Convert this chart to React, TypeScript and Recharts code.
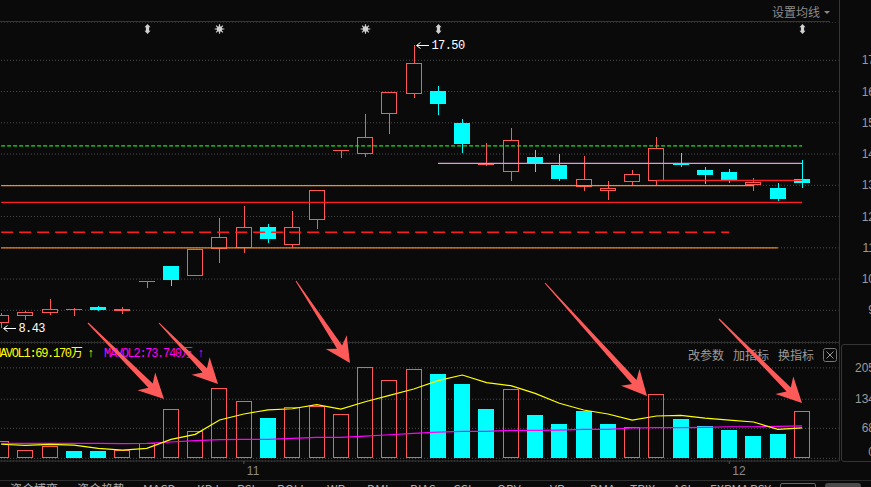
import React from "react";
import {
  ComposedChart,
  Bar,
  Line,
  XAxis,
  YAxis,
  CartesianGrid,
  ReferenceLine,
} from "recharts";

// 日K 数据
const opens = [8.6, 8.83, 8.92, 9.01, 9.11, 8.98, 9.93, 10.42, 10.11, 10.95, 10.98, 11.66, 11.08, 11.88, 14.11, 14.01, 15.29, 15.93, 16.02, 14.99, 13.66, 13.44, 13.91, 13.65, 12.94, 12.83, 13.12, 13.15, 13.7, 13.49, 13.43, 13.0, 12.91, 13.2];
const highs = [8.92, 8.98, 9.36, 9.08, 9.14, 9.12, 9.95, 10.43, 10.97, 11.95, 12.34, 11.76, 12.18, 12.85, 14.13, 15.28, 15.99, 17.5, 16.18, 15.12, 14.35, 14.83, 14.13, 14.0, 13.94, 13.13, 13.49, 14.55, 14.03, 13.59, 13.52, 13.23, 13.07, 13.81];
const lows = [8.43, 8.7, 8.86, 8.82, 8.98, 8.88, 9.72, 9.79, 10.1, 10.52, 10.82, 11.16, 11.02, 11.59, 13.88, 13.92, 14.65, 15.8, 15.25, 14.03, 13.63, 13.14, 13.44, 13.15, 12.82, 12.54, 12.98, 12.98, 13.6, 13.04, 13.08, 12.82, 12.51, 12.92];
const closes = [8.84, 8.94, 9.03, 9.04, 9.02, 9.04, 9.95, 9.97, 10.96, 11.35, 11.66, 11.27, 11.66, 12.84, 14.13, 14.55, 15.98, 16.9, 15.61, 14.33, 13.7, 14.44, 13.71, 13.21, 13.19, 12.9, 13.36, 14.19, 13.66, 13.34, 13.18, 13.1, 12.57, 13.08];

// 成交量（万）及颜色（1 红 / 0 青）
const volumes = [39, 20, 27, 16.5, 16.5, 19, 34, 111, 62, 159, 129, 91, 116, 119, 100, 206, 177, 202, 191, 169, 112, 156, 98, 78, 108, 78, 70, 146, 89, 73, 64, 50.5, 55, 107];
const volUp = [1, 1, 1, 0, 0, 1, 1, 1, 1, 1, 1, 0, 1, 1, 1, 1, 1, 1, 0, 0, 0, 1, 0, 0, 0, 0, 1, 1, 0, 0, 0, 0, 0, 1];
const mavol1 = [32, 29.4, 31.7, 30, 22.6, 18.8, 22.6, 43, 54.4, 86.8, 100.4, 110, 112.4, 121.5, 111.7, 128.3, 142.8, 157, 176, 188.8, 171.4, 164.6, 147.3, 124.7, 109.5, 100.4, 86.8, 95.9, 97.5, 91.3, 86.8, 82.3, 65.7, 69.17];
const mavol2 = [34, 34, 34, 34, 34, 33.5, 34, 37, 40, 42.3, 43, 43, 45.3, 47.6, 47.6, 50.5, 53.5, 56.7, 59.3, 61.2, 61.2, 63.5, 63.5, 64.1, 65.7, 65.7, 68.7, 69.4, 69.4, 70.3, 71.6, 71.6, 72.5, 73.74];

// 坐标刻度
const priceTicks = [9, 10, 11, 12, 13, 14, 15, 16, 17];
const volTicks = [0, 68, 134, 205];
const monthTickIdx = [10, 30];
const monthTickLabel = ["11", "12"];

// 顶部信号
const signalIdx = [6, 9, 15, 18, 33];
const signalKind = ["updown", "star", "star", "updown", "updown"];

// 画线：价位、起止K线
const levelPrices = [14.26, 13.7, 13.16, 12.99, 12.456, 11.496, 11.0];
const levelFrom = [0, 18, 27, 0, 0, 0, 0];
const levelTo = [33, 33, 33, 31, 33, 30, 32];
const levelStyles = [
  { stroke: "#14e814", dash: "4 2", w: 1.3 },
  { stroke: "#e296e2", dash: undefined, w: 1.3 },
  { stroke: "#ff2020", dash: undefined, w: 1.3 },
  { stroke: "#ff8a10", dash: undefined, w: 1.3 },
  { stroke: "#ff1c1c", dash: undefined, w: 1.3 },
  { stroke: "#ff1c1c", dash: "12 6", w: 1.6 },
  { stroke: "#f08a18", dash: undefined, w: 1.3 },
];

const bottomTabs = ["资金博弈", "资金趋势", "MACD", "KDJ", "RSI", "BOLL", "WR", "DMI", "BIAS", "CCI", "OBV", "VR", "DMA", "TRIX", "ASI", "EXPMA", "PSY"];
const bottomTabX = [10, 77, 143, 197, 237, 277, 327, 367, 410, 453, 497, 550, 590, 630, 673, 710, 750];

// 手绘箭头（注释，页面坐标）
const noteArrows = [
  [88, 323, 164, 399],
  [159, 323, 218, 384],
  [296, 281, 350, 363],
  [545, 283, 647, 396],
  [719, 319, 802, 403],
];

const BG = "#0a0a0a";
const RED = "#ff5656";
const CYAN = "#00ffff";
const CHART_LEFT = -11;
const CHART_W = 900;
const AXIS_W = 50.5;
const PRICE_TOP = 22;
const PRICE_H = 320;
const VOL_TOP = 343;
const VOL_H = 137;
const LABEL_END = 875 - CHART_LEFT;

const maxIdx = highs.indexOf(Math.max(...highs));
const minIdx = lows.indexOf(Math.min(...lows));

const rows = [...opens.map((o, i) => ({
  i,
  open: o,
  high: highs[i],
  low: lows[i],
  close: closes[i],
  vol: volumes[i],
  up: volUp[i],
  ma1: mavol1[i],
  ma2: mavol2[i],
})), { i: opens.length } as any];

const Signal = ({ cx, y, kind }: { cx: number; y: number; kind: string }) => {
  if (kind === "star") {
    const rays = [0, 45, 90, 135].map((a) => {
      const r = (a * Math.PI) / 180;
      return (
        <line key={a} x1={cx - Math.cos(r) * 4.8} y1={y - Math.sin(r) * 4.8} x2={cx + Math.cos(r) * 4.8} y2={y + Math.sin(r) * 4.8} stroke="#d0d0d0" strokeWidth={1.2} />
      );
    });
    return (
      <g>
        {rays}
        <circle cx={cx} cy={y} r={2.8} fill="#d0d0d0" />
      </g>
    );
  }
  const p = [
    [cx, y - 5], [cx + 3, y - 1.8], [cx + 1.6, y - 1.8], [cx + 1.6, y + 1.8], [cx + 3, y + 1.8],
    [cx, y + 5], [cx - 3, y + 1.8], [cx - 1.6, y + 1.8], [cx - 1.6, y - 1.8], [cx - 3, y - 1.8],
  ];
  return <polygon points={p.map((q) => q.join(",")).join(" ")} fill="#d0d0d0" />;
};

const Candle = (props: any) => {
  const { x, y, width, height, payload } = props;
  if (!payload || payload.open == null || !isFinite(y) || !isFinite(height)) return null;
  const { open, close, high, low, i } = payload;
  const top = Math.min(y, y + height);
  const k = Math.abs(height) / (high - low);
  const yOf = (p: number) => top + (high - p) * k;
  const c = Math.round(x + width / 2);
  const wx = c + 0.5;
  const up = close >= open;
  const bt = Math.round(yOf(Math.max(open, close)));
  const bb = Math.round(yOf(Math.min(open, close)));
  const yh = Math.round(yOf(high));
  const yl = Math.round(yOf(low));
  const si = signalIdx.indexOf(i);
  const parts: React.ReactNode[] = [];
  if (up) {
    parts.push(<line key="w1" x1={wx} y1={yh} x2={wx} y2={bt} stroke={RED} />);
    parts.push(<line key="w2" x1={wx} y1={bb} x2={wx} y2={yl} stroke={RED} />);
    if (bb - bt < 2) {
      parts.push(<rect key="b" x={c - 8} y={bt} width={16} height={Math.max(1, bb - bt)} fill={RED} />);
    } else {
      parts.push(<rect key="b" x={c - 7.5} y={bt + 0.5} width={15} height={bb - bt - 1} fill={BG} stroke={RED} />);
    }
  } else {
    parts.push(<line key="w" x1={wx} y1={yh} x2={wx} y2={yl} stroke={CYAN} />);
    parts.push(<rect key="b" x={c - 8} y={bt} width={16} height={Math.max(1, bb - bt)} fill={CYAN} />);
  }
  const note = (py: number, v: number) => (
    <g key={"n" + v}>
      <line x1={wx + 2} y1={py + 0.5} x2={wx + 14} y2={py + 0.5} stroke="#fff" shapeRendering="crispEdges" />
      <path d={`M${wx + 2},${py + 0.5} L${wx + 6},${py - 2.5} M${wx + 2},${py + 0.5} L${wx + 6},${py + 3.5}`} stroke="#fff" fill="none" />
      <text x={wx + 17} y={py + 1} fill="#fff" fontSize={12} fontFamily="'Liberation Mono', monospace" letterSpacing={-0.6} dominantBaseline="central">
        {v.toFixed(2)}
      </text>
    </g>
  );
  return (
    <g>
      <g shapeRendering="crispEdges">{parts}</g>
      {i === maxIdx && note(yh, high)}
      {i === minIdx && note(yl, low)}
      {si >= 0 && <Signal cx={wx} y={29 - PRICE_TOP} kind={signalKind[si]} />}
    </g>
  );
};

const VolBar = (props: any) => {
  const { x, y, width, height, payload } = props;
  if (!payload || payload.vol == null || !isFinite(y) || !isFinite(height)) return null;
  const c = Math.round(x + width / 2);
  const t = Math.round(Math.min(y, y + height));
  const b = Math.round(Math.max(y, y + height));
  if (payload.up) {
    return <rect x={c - 7.5} y={t + 0.5} width={15} height={b - t - 1} fill="none" stroke={RED} shapeRendering="crispEdges" />;
  }
  return <rect x={c - 8} y={t} width={16} height={b - t} fill={CYAN} shapeRendering="crispEdges" />;
};

const PriceTick = (p: any) => (
  <text x={LABEL_END} y={p.y} fill="#9a9a9a" fontSize={12} fontFamily="'Liberation Sans', Arial, sans-serif" textAnchor="end" dominantBaseline="central">
    {p.payload.value}
  </text>
);

const VolTick = (p: any) => (
  <text x={LABEL_END} y={p.payload.value === 0 ? p.y - 6 : p.y} fill="#9a9a9a" fontSize={12} fontFamily="'Liberation Sans', Arial, sans-serif" textAnchor="end" dominantBaseline="central">
    {p.payload.value}
  </text>
);

const MonthTick = (p: any) => {
  const k = monthTickIdx.indexOf(p.payload.value);
  return (
    <text x={p.x + 3} y={471 - VOL_TOP} fill="#8a8a8a" fontSize={12} fontFamily="'Liberation Sans', Arial, sans-serif" dominantBaseline="central">
      {k >= 0 ? monthTickLabel[k] : ""}
    </text>
  );
};

function arrowPoints(x1: number, y1: number, x2: number, y2: number) {
  const dx = x2 - x1;
  const dy = y2 - y1;
  const L = Math.hypot(dx, dy);
  const ux = dx / L;
  const uy = dy / L;
  const nx = -uy;
  const ny = ux;
  const head = 25;
  const neckAt = 19;
  const barb = 12.5;
  const neck = 3;
  const tail = 0.5;
  const bx = x2 - ux * head;
  const by = y2 - uy * head;
  const kx = x2 - ux * neckAt;
  const ky = y2 - uy * neckAt;
  const pts = [
    [x1 + nx * tail, y1 + ny * tail],
    [kx + nx * neck, ky + ny * neck],
    [bx + nx * barb, by + ny * barb],
    [x2, y2],
    [bx - nx * barb, by - ny * barb],
    [kx - nx * neck, ky - ny * neck],
    [x1 - nx * tail, y1 - ny * tail],
  ];
  return pts.map((q) => q.map((v) => v.toFixed(1)).join(",")).join(" ");
}

const abs = (s: React.CSSProperties): React.CSSProperties => ({ position: "absolute", ...s });
const cjk = "'Noto Sans CJK SC', sans-serif";
const mono: React.CSSProperties = { fontFamily: "'Liberation Mono', 'Noto Sans CJK SC', monospace", fontSize: 12, letterSpacing: -1.3, whiteSpace: "pre", lineHeight: "14px" };

export default function App() {
  return (
    <div style={{ position: "fixed", left: 0, top: 0, width: 871, height: 487, background: BG, overflow: "hidden" }}>
      {/* 边框 */}
      <div style={abs({ left: 0, top: 21, width: 830, height: 1, background: "#353535" })} />
      <div style={abs({ left: 839, top: 0, width: 1, height: 461, background: "#353535" })} />
      <div style={abs({ left: 0, top: 342, width: 839, height: 1, background: "#2e2e2e" })} />
      <div style={abs({ left: 841, top: 344, width: 40, height: 116, border: "1px solid #353535", borderRadius: 3 })} />
      <div style={abs({ left: 0, top: 480, width: 871, height: 1, background: "#2e2e2e" })} />

      <div style={abs({ left: 772, top: 3, fontFamily: cjk, fontSize: 12, color: "#8a8a8a", lineHeight: "18px" })}>设置均线</div>
      <div style={abs({ left: 824, top: 11, width: 0, height: 0, borderLeft: "3px solid transparent", borderRight: "3px solid transparent", borderTop: "3px solid #8a8a8a" })} />

      <div style={abs({ left: CHART_LEFT, top: PRICE_TOP })}>
        <ComposedChart width={CHART_W} height={PRICE_H} data={rows} margin={{ top: 0, right: 0, bottom: 0, left: 0 }}>
          <CartesianGrid vertical={false} stroke="#4c4c4c" strokeDasharray="1 2" />
          <XAxis dataKey="i" type="category" hide />
          <YAxis
            orientation="right"
            width={AXIS_W}
            domain={[7.9856, 18.2256]}
            allowDataOverflow
            ticks={priceTicks}
            axisLine={false}
            tickLine={false}
            tick={PriceTick}
          />
          {levelPrices.map((p, k) => (
            <ReferenceLine
              key={k}
              segment={[{ x: levelFrom[k], y: p }, { x: levelTo[k], y: p }]}
              stroke={levelStyles[k].stroke}
              strokeWidth={levelStyles[k].w}
              strokeDasharray={levelStyles[k].dash}
            />
          ))}
          <Bar
            dataKey={(d: any) => (d.open == null ? null : [d.low, d.high])}
            barSize={16}
            shape={Candle}
            isAnimationActive={false}
          />
        </ComposedChart>
      </div>

      <div style={abs({ left: CHART_LEFT, top: VOL_TOP })}>
        <ComposedChart width={CHART_W} height={VOL_H} data={rows} margin={{ top: 0, right: 0, bottom: 0, left: 0 }}>
          <CartesianGrid vertical={false} stroke="#4c4c4c" strokeDasharray="1 2" />
          <XAxis
            dataKey="i"
            type="category"
            height={19}
            ticks={monthTickIdx}
            interval={0}
            axisLine={{ stroke: "#353535" }}
            tickLine={{ stroke: "#555" }}
            tickSize={3}
            tick={MonthTick}
          />
          <YAxis
            orientation="right"
            width={AXIS_W}
            domain={[-6, 261.3]}
            allowDataOverflow
            ticks={volTicks}
            axisLine={false}
            tickLine={false}
            tick={VolTick}
          />
          <Bar dataKey="vol" barSize={16} shape={VolBar} isAnimationActive={false} />
          <Line type="linear" dataKey="ma2" stroke="#ff00ff" strokeWidth={1.2} dot={false} isAnimationActive={false} />
          <Line type="linear" dataKey="ma1" stroke="#ffff00" strokeWidth={1.2} dot={false} isAnimationActive={false} />
        </ComposedChart>
      </div>

      <div style={abs({ left: -6, top: 347, color: "#ffff00", ...mono })}>
        {`MAVOL1:${mavol1[mavol1.length - 1].toFixed(3)}万 ↑`}
      </div>
      <div style={abs({ left: 104, top: 347, color: "#ff00ff", ...mono })}>
        {`MAVOL2:${mavol2[mavol2.length - 1].toFixed(3)}万 ↑`}
      </div>

      {["改参数", "加指标", "换指标"].map((t, k) => (
        <div key={t} style={abs({ left: 688 + k * 45, top: 346, fontFamily: cjk, fontSize: 12, color: "#9a9a9a", lineHeight: "18px" })}>{t}</div>
      ))}
      <svg style={abs({ left: 823, top: 348 })} width={15} height={15}>
        <rect x={0.5} y={0.5} width={13} height={13} rx={2} fill="none" stroke="#777" />
        <path d="M3.5,3.5 L10.5,10.5 M10.5,3.5 L3.5,10.5" stroke="#999" />
      </svg>

      {bottomTabs.map((t, k) => (
        <div key={t} style={abs({ left: bottomTabX[k], top: 481, fontFamily: cjk, fontSize: 12, color: "#aaa", lineHeight: "16px", whiteSpace: "pre" })}>{t}</div>
      ))}
      <div style={abs({ left: 780, top: 483, width: 34, height: 14, border: "1px solid #666", borderRadius: 2 })} />
      <div style={abs({ left: 825, top: 483, width: 36, height: 14, background: "#4a4a4a", borderRadius: 3 })} />

      <svg style={abs({ left: 0, top: 0, pointerEvents: "none" })} width={871} height={487}>
        {noteArrows.map((a, k) => (
          <polygon key={k} points={arrowPoints(a[0], a[1], a[2], a[3])} fill="#ff5a5a" />
        ))}
      </svg>
    </div>
  );
}
